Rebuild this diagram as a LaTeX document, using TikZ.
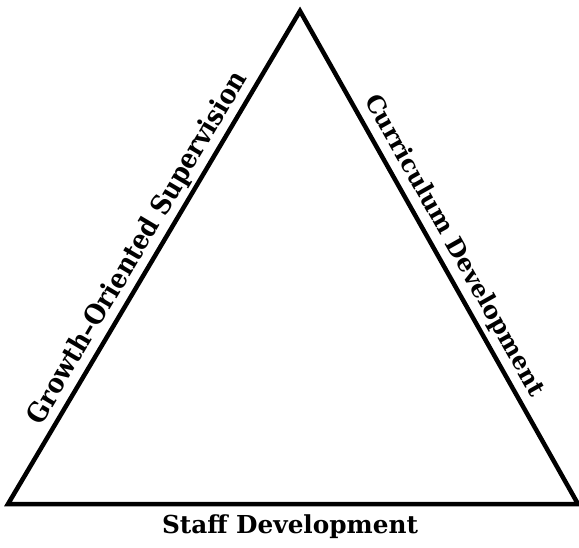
\documentclass[tikz,border=0pt]{standalone}
\usepackage{fontspec}
\setmainfont{DejaVu Serif}
\newfontfamily\lsf{DejaVu Serif Condensed}
\newlength\fitlen
\newcommand\fittext[3]{%
  \settowidth\fitlen{#2\fontsize{10pt}{12pt}\selectfont #3}%
  \pgfmathsetmacro\fitsz{10*#1/\fitlen}%
  {#2\fontsize{\fitsz pt}{\fitsz pt}\selectfont #3}}
\begin{document}
\begin{tikzpicture}[x=1pt,y=-1pt,
  side/.style={line width=4.5pt, line join=miter},
  lbl/.style={inner sep=0pt, anchor=base, sloped}]
\useasboundingbox (0,0) rectangle (579,547);
\coordinate (A) at (300,11);
\coordinate (B) at (8,504);
\coordinate (C) at (578,504);
\draw[side] (A) -- (B) -- (C) -- cycle;
\path (B) -- (A) node[lbl, pos=0.5, yshift=11pt] (gos) {\fittext{405}{\lsf\bfseries}{Growth–Oriented Supervision}};
\path (A) -- (C) node[lbl, pos=0.495, yshift=12pt] (cd) {\fittext{342}{\bfseries}{Curriculum Development}};
\node[inner sep=0pt, anchor=base] (sd) at (290,533) {\fittext{256}{\bfseries}{Staff Development}};
\end{tikzpicture}
\end{document}
